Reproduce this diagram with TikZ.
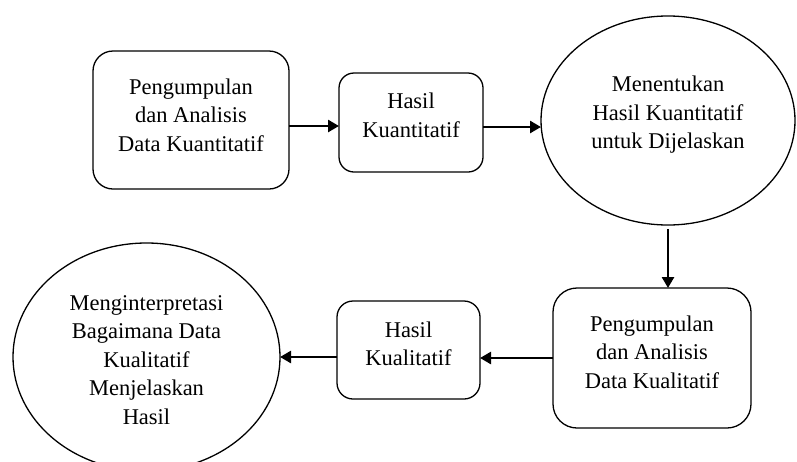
\documentclass[tikz,border=0pt]{standalone}
\usepackage{fontspec}
\setmainfont{Liberation Serif}
\usetikzlibrary{shapes.geometric,arrows.meta}
\begin{document}
\begin{tikzpicture}[x=1pt,y=-1pt,
  box/.style={draw,line width=1.3pt,rounded corners=#1,inner sep=0pt,outer sep=0pt},
  ell/.style={draw,ellipse,line width=1.3pt,inner sep=0pt,outer sep=0pt},
  txt/.style={align=center,inner sep=0pt,font=\fontsize{22.5}{28.5}\selectfont},
  arr/.style={line width=2.6pt,-{Triangle[length=11pt,width=12pt]}}]
\useasboundingbox (0,0) rectangle (797,461);
\clip (0,0) rectangle (797,461);
% shapes
\node[box=20pt,minimum width=196pt,minimum height=138pt] (b1) at (191,120) {};
\node[box=15pt,minimum width=144pt,minimum height=99pt] (b2) at (411,122.5) {};
\node[ell,minimum width=254pt,minimum height=209pt] (e3) at (668,120.5) {};
\node[box=24pt,minimum width=198pt,minimum height=140pt] (b4) at (652,358) {};
\node[box=16pt,minimum width=143pt,minimum height=98pt] (b5) at (408.5,350) {};
\node[ell,minimum width=267pt,minimum height=228pt] (e6) at (146.5,357) {};
% texts
\node[txt] (t1) at ([yshift=5pt]b1.center) {Pengumpulan\\dan Analisis\\Data Kuantitatif};
\node[txt] (t2) at ([yshift=7pt]b2.center) {Hasil\\Kuantitatif};
\node[txt] (t3) at ([yshift=5.5pt]e3.center) {Menentukan\\Hasil Kuantitatif\\untuk Dijelaskan};
\node[txt] (t4) at ([yshift=6pt]b4.center) {Pengumpulan\\dan Analisis\\Data Kualitatif};
\node[txt] (t5) at ([yshift=6pt]b5.center) {Hasil\\Kualitatif};
\node[txt] (t6) at ([yshift=-3pt]e6.center) {Menginterpretasi\\Bagaimana Data\\Kualitatif\\Menjelaskan\\Hasil};
% connectors
\draw[arr] ([yshift=-6pt]b1.east) -- ([yshift=-6pt]b1.east -| b2.west);
\draw[arr] ([yshift=-4.5pt]b2.east) -- ([yshift=-4.5pt]b2.east -| e3.west);
\draw[arr] ([yshift=-4pt]e3.south) -- (e3.south |- b4.north);
\draw[arr] (b4.west) -- (b4.west -| b5.east);
\draw[arr] ([yshift=-7pt]b5.west) -- ([yshift=-7pt]b5.west -| e6.east);
\end{tikzpicture}
\end{document}
